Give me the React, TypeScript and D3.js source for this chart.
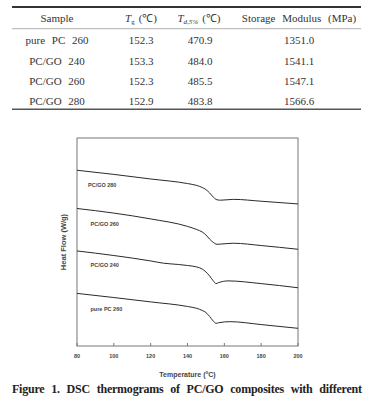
import React from 'react';
import * as d3 from 'd3';

// Table values
const tableHeaders = ['Sample', 'Tg', 'Td', 'Storage Modulus (MPa)'];
const samples = ['pure PC 260', 'PC/GO 240', 'PC/GO 260', 'PC/GO 280'];
const tgValues = ['152.3', '153.3', '152.3', '152.9'];
const tdValues = ['470.9', '484.0', '485.5', '483.8'];
const modulusValues = ['1351.0', '1541.1', '1547.1', '1566.6'];

// DSC curves (heat flow in arbitrary offset units)
const seriesNames = ['PC/GO 280', 'PC/GO 260', 'PC/GO 240', 'pure PC 260'];
const temp280 = [80, 100, 120, 140, 145, 148, 150, 152, 154, 156, 158, 165, 180, 200];
const flow280 = [8.45, 8.25, 8.03, 7.81, 7.72, 7.62, 7.52, 7.36, 7.16, 7.03, 7.01, 7.05, 6.96, 6.83];
const temp260 = [80, 100, 120, 140, 145, 148, 150, 152, 154, 156, 158, 165, 180, 200];
const flow260 = [6.61, 6.39, 6.11, 5.75, 5.6, 5.48, 5.34, 5.14, 4.98, 4.89, 4.9, 4.94, 4.83, 4.65];
const temp240 = [80, 100, 120, 127, 135, 140, 145, 148, 150, 152, 154, 155.5, 157, 162, 180, 200];
const flow240 = [4.57, 4.35, 4.09, 3.98, 3.92, 3.87, 3.8, 3.7, 3.56, 3.37, 3.13, 3.0, 3.05, 3.13, 3.0, 2.8];
const tempPure = [80, 100, 120, 140, 145, 148, 150, 152, 154, 155.5, 157, 163, 180, 200];
const flowPure = [2.53, 2.33, 2.12, 1.9, 1.81, 1.71, 1.61, 1.42, 1.2, 1.09, 1.12, 1.17, 1.03, 0.85];
const xTicks = [80, 100, 120, 140, 160, 180, 200];

const serif = '"Liberation Serif", "Times New Roman", serif';
const sans = '"Liberation Sans", Arial, sans-serif';

const App = () => {
  const left = 77;
  const right = 298;
  const top = 138;
  const bottom = 346;

  const x = d3.scaleLinear().domain([80, 200]).range([left, right]);
  const y = d3.scaleLinear().domain([0, 10]).range([bottom, top]);

  const line = d3.line<[number, number]>()
    .x(d => x(d[0]))
    .y(d => y(d[1]))
    .curve(d3.curveMonotoneX);

  const curves = [
    { temps: temp280, flows: flow280 },
    { temps: temp260, flows: flow260 },
    { temps: temp240, flows: flow240 },
    { temps: tempPure, flows: flowPure },
  ];
  const labelPos = [
    { x: 88, y: 187 },
    { x: 90.5, y: 225.5 },
    { x: 90.5, y: 267 },
    { x: 90.5, y: 311 },
  ];

  const colX = [57, 141, 200, 299];
  const rowY = [44, 65, 85, 105];

  return (
    <svg width={369} height={397} style={{ position: 'absolute', left: 0, top: 0, background: '#fff' }}>
      {/* table */}
      <line x1={12} x2={361} y1={7} y2={7} stroke="#333" strokeWidth={2} />
      <line x1={12} x2={361} y1={28.7} y2={28.7} stroke="#999" strokeWidth={0.8} />
      <line x1={12} x2={361} y1={109.3} y2={109.3} stroke="#555" strokeWidth={1.4} />
      <g fontFamily={serif} fontSize={11} fill="#333" textAnchor="middle" wordSpacing={4}>
        <text x={colX[0]} y={22}>{tableHeaders[0]}</text>
        <text x={colX[1]} y={22}>
          <tspan fontStyle="italic">T</tspan>
          <tspan fontSize={7} dy={2}>g</tspan>
          <tspan dy={-2} dx={4}>(℃)</tspan>
        </text>
        <text x={colX[2] - 1} y={22}>
          <tspan fontStyle="italic">T</tspan>
          <tspan fontSize={7} fontStyle="italic" dy={2}>d,5%</tspan>
          <tspan dy={-2} dx={4}>(℃)</tspan>
        </text>
        <text x={colX[3]} y={22}>{tableHeaders[3]}</text>
        {samples.map((s, i) => (
          <g key={s}>
            <text x={colX[0]} y={rowY[i]}>{s}</text>
            <text x={colX[1]} y={rowY[i]}>{tgValues[i]}</text>
            <text x={colX[2]} y={rowY[i]}>{tdValues[i]}</text>
            <text x={colX[3]} y={rowY[i]}>{modulusValues[i]}</text>
          </g>
        ))}
      </g>

      {/* plot frame */}
      <rect x={left} y={top} width={right - left} height={bottom - top} fill="none" stroke="#777" strokeWidth={1} />
      {xTicks.map(t => (
        <g key={t}>
          <line x1={x(t)} x2={x(t)} y1={bottom} y2={bottom - 3} stroke="#777" />
          <text x={x(t)} y={358} textAnchor="middle" fontFamily={sans} fontSize={5.5} fontWeight="bold" fill="#444">{t}</text>
        </g>
      ))}

      {curves.map((c, i) => (
        <path
          key={seriesNames[i]}
          d={line(c.temps.map((t, j) => [t, c.flows[j]] as [number, number])) || ''}
          fill="none"
          stroke="#2a2a2a"
          strokeWidth={1}
        />
      ))}
      {seriesNames.map((n, i) => (
        <text key={n} x={labelPos[i].x} y={labelPos[i].y} fontFamily={sans} fontSize={5.5} fontWeight="bold" fill="#444">{n}</text>
      ))}

      <text
        transform="translate(66,242) rotate(-90)"
        textAnchor="middle"
        fontFamily={sans}
        fontSize={7.5}
        fontWeight="bold"
        fill="#444"
      >Heat Flow (W/g)</text>
      <text x={187.5} y={377} textAnchor="middle" fontFamily={sans} fontSize={7} fontWeight="bold" fill="#444">
        Temperature (<tspan fontSize={4.5} dy={-3}>o</tspan><tspan dy={3}>C)</tspan>
      </text>

      <text x={12} y={393} fontFamily={serif} fontSize={12} fontWeight="bold" fill="#222" textLength={350} lengthAdjust="spacing" wordSpacing={4}>
        Figure 1. DSC thermograms of PC/GO composites with different
      </text>
    </svg>
  );
};

export default App;
